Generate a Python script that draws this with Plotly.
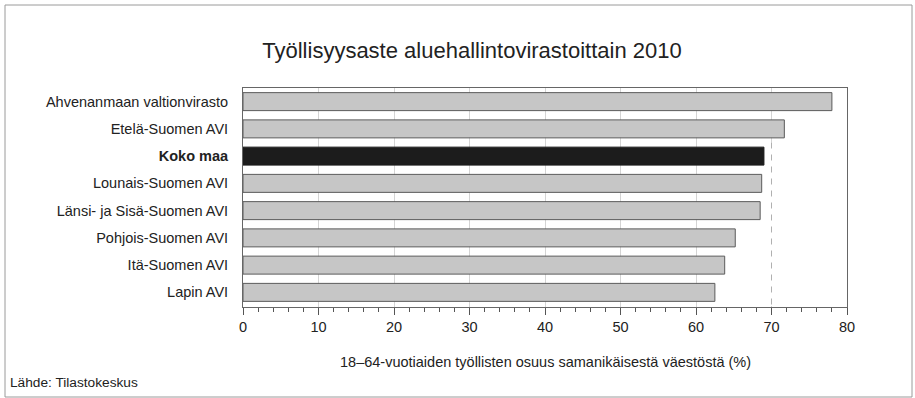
import plotly.graph_objects as go

categories = [
    "Ahvenanmaan valtionvirasto",
    "Etelä-Suomen AVI",
    "Koko maa",
    "Lounais-Suomen AVI",
    "Länsi- ja Sisä-Suomen AVI",
    "Pohjois-Suomen AVI",
    "Itä-Suomen AVI",
    "Lapin AVI",
]
values = [78.0, 71.7, 69.0, 68.7, 68.5, 65.2, 63.8, 62.5]
highlight = "Koko maa"
x_ticks = [0, 10, 20, 30, 40, 50, 60, 70, 80]
reference_value = 70

title_text = "Työllisyysaste aluehallintovirastoittain 2010"
x_title = "18–64-vuotiaiden työllisten osuus samanikäisestä väestöstä (%)"
source_text = "Lähde: Tilastokeskus"

labels = [f"<b>{c}</b>" if c == highlight else c for c in categories]
colors = ["#1c1c1c" if c == highlight else "#c6c6c6" for c in categories]
line_colors = ["#1c1c1c" if c == highlight else "#5a5a5a" for c in categories]

FONT = "Liberation Sans, Arial, sans-serif"

fig = go.Figure(
    go.Bar(
        y=labels,
        x=values,
        orientation="h",
        width=0.66,
        marker=dict(color=colors, line=dict(color=line_colors, width=1)),
        hoverinfo="x+y",
    )
)

W, H = 915, 398
L, R, T, B = 243, 68, 88, 91

fig.update_layout(
    width=W,
    height=H,
    margin=dict(l=L, r=R, t=T, b=B, pad=0),
    paper_bgcolor="white",
    plot_bgcolor="white",
    font=dict(family=FONT, color="#222", size=14.5),
    showlegend=False,
    title=dict(
        text=title_text,
        x=472 / W,
        xanchor="center",
        y=1 - 50 / H,
        yanchor="middle",
        font=dict(size=22, color="#222", family=FONT),
    ),
    xaxis=dict(
        range=[0, 80],
        tickvals=x_ticks,
        ticks="outside",
        ticklen=7,
        tickcolor="#555",
        tickfont=dict(size=14.5, color="#222"),
        showline=True,
        linecolor="#666",
        linewidth=1,
        mirror=True,
        showgrid=True,
        gridcolor="#d4d4d4",
        gridwidth=1,
        zeroline=False,
        minor=dict(dtick=2, ticks="outside", ticklen=4, tickcolor="#555", showgrid=False),
        fixedrange=True,
    ),
    yaxis=dict(
        autorange="reversed",
        showline=True,
        linecolor="#666",
        linewidth=1,
        mirror=True,
        ticks="",
        showgrid=False,
        tickfont=dict(size=14.5, color="#222"),
        ticklabelstandoff=11,
        fixedrange=True,
    ),
)

pw = W - L - R
ph = H - T - B

# reference line at 70 (white underlay then dashed)
n = len(categories)
fig.add_shape(type="line", xref="x", yref="y", x0=reference_value, x1=reference_value,
              y0=1.5, y1=n - 0.5, line=dict(color="white", width=2), layer="above")
fig.add_shape(type="line", xref="x", yref="y", x0=reference_value, x1=reference_value,
              y0=1.5, y1=n - 0.5, line=dict(color="#b0b0b0", width=1, dash="6px,6px"), layer="above")

# outer frame
fig.add_shape(type="rect", xref="paper", yref="paper",
              x0=(5 - L) / pw, x1=(912 - L) / pw,
              y0=(H - B - 397) / ph, y1=(H - B - 5) / ph,
              line=dict(color="#9a9a9a", width=1), layer="above")

fig.add_annotation(text=x_title, xref="paper", yref="paper", x=0.5,
                   y=(H - B - 362) / ph, xanchor="center", yanchor="middle",
                   showarrow=False, font=dict(size=14.5, color="#222", family=FONT))
fig.add_annotation(text=source_text, xref="paper", yref="paper", x=(8 - L) / pw,
                   y=(H - B - 382) / ph, xanchor="left", yanchor="middle",
                   showarrow=False, font=dict(size=13.7, color="#222", family=FONT))

fig.write_html(
    "out.html",
    config={"displayModeBar": False},
    post_script="document.body.style.margin='0';document.body.style.overflow='hidden';",
)
